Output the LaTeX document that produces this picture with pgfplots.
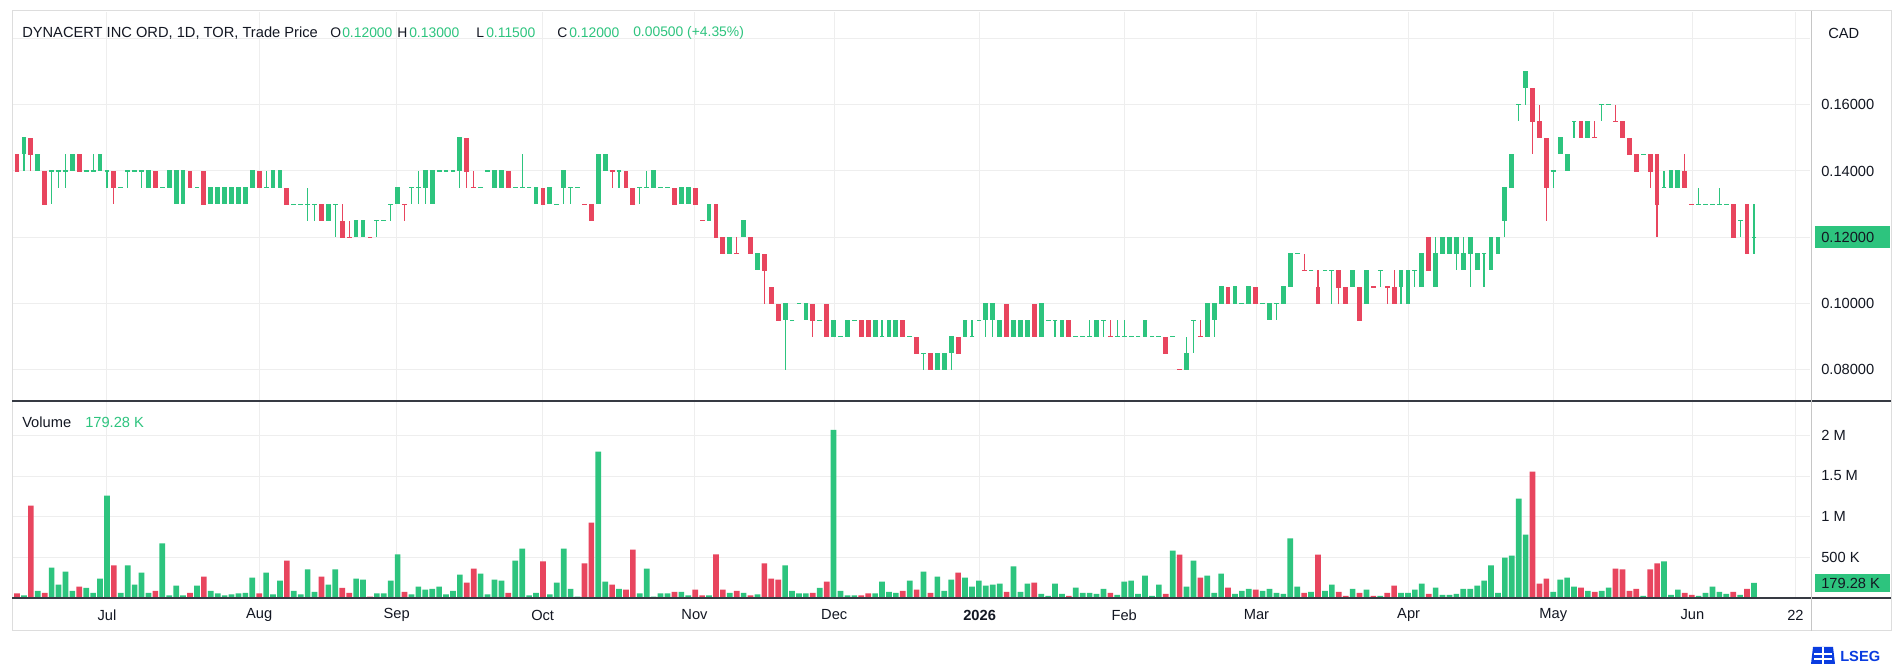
\documentclass[border=0pt]{standalone}
\usepackage{pgfplots}
\pgfplotsset{compat=1.18}
\usepackage{pgfplotstable}
\usepackage{fontspec}
\setmainfont{Liberation Sans}
\definecolor{upc}{HTML}{2DC47E}
\definecolor{dnc}{HTML}{E8455E}
\definecolor{txt}{HTML}{131722}
\definecolor{gridc}{HTML}{EEEEEE}
\definecolor{framec}{HTML}{DDDDDD}
\definecolor{lseg}{HTML}{0A3CE0}
% rising (green) candles: index, open, high, low, close, volume (K)
\pgfplotstableread{
i o h l c v
1 0.145 0.15 0.14 0.15 25
3 0.14 0.145 0.14 0.145 83
5 0.14 0.14 0.13 0.14 370
6 0.14 0.14 0.135 0.14 158
7 0.14 0.145 0.135 0.14 320
8 0.14 0.145 0.14 0.145 83
10 0.14 0.14 0.14 0.14 120
11 0.14 0.145 0.14 0.14 58
12 0.14 0.145 0.14 0.145 233
13 0.14 0.14 0.135 0.14 1258
15 0.135 0.135 0.135 0.135 58
16 0.14 0.14 0.135 0.14 396
17 0.14 0.14 0.14 0.14 158
18 0.14 0.14 0.135 0.14 308
19 0.135 0.14 0.135 0.14 58
21 0.135 0.135 0.135 0.135 667
22 0.135 0.14 0.135 0.14 25
23 0.13 0.14 0.13 0.14 146
24 0.13 0.14 0.13 0.14 25
26 0.135 0.135 0.135 0.135 146
28 0.13 0.135 0.13 0.135 83
29 0.13 0.135 0.13 0.135 50
30 0.13 0.135 0.13 0.135 25
31 0.13 0.135 0.13 0.135 38
32 0.13 0.135 0.13 0.135 50
33 0.13 0.135 0.13 0.135 58
34 0.135 0.14 0.135 0.14 246
36 0.135 0.14 0.135 0.135 308
37 0.135 0.14 0.135 0.14 38
38 0.135 0.14 0.135 0.14 208
40 0.13 0.13 0.13 0.13 83
41 0.13 0.13 0.13 0.13 38
42 0.13 0.135 0.125 0.13 346
43 0.13 0.13 0.125 0.13 71
45 0.125 0.13 0.125 0.13 158
46 0.13 0.13 0.12 0.13 346
49 0.12 0.125 0.12 0.125 233
50 0.12 0.125 0.12 0.125 221
52 0.125 0.125 0.12 0.125 50
53 0.125 0.125 0.125 0.125 50
54 0.13 0.13 0.125 0.13 208
55 0.13 0.135 0.13 0.135 533
57 0.135 0.135 0.13 0.135 38
58 0.135 0.14 0.13 0.135 133
59 0.135 0.14 0.13 0.14 96
60 0.13 0.14 0.13 0.14 108
61 0.14 0.14 0.14 0.14 133
62 0.14 0.14 0.14 0.14 38
63 0.14 0.14 0.14 0.14 83
64 0.14 0.15 0.135 0.15 283
67 0.135 0.135 0.135 0.135 296
68 0.14 0.14 0.14 0.14 38
69 0.135 0.14 0.135 0.14 221
70 0.135 0.14 0.135 0.14 208
72 0.135 0.135 0.135 0.135 454
73 0.135 0.145 0.135 0.135 604
74 0.135 0.135 0.135 0.135 25
75 0.13 0.135 0.13 0.135 58
77 0.13 0.135 0.13 0.135 38
78 0.13 0.13 0.13 0.13 183
79 0.135 0.14 0.13 0.14 604
80 0.135 0.135 0.13 0.135 108
81 0.135 0.135 0.135 0.135 12
84 0.13 0.145 0.13 0.145 1800
85 0.14 0.145 0.14 0.145 196
87 0.14 0.14 0.135 0.14 108
90 0.135 0.135 0.13 0.135 50
91 0.135 0.14 0.135 0.135 358
92 0.135 0.14 0.135 0.14 12
93 0.135 0.135 0.135 0.135 50
94 0.135 0.135 0.135 0.135 50
96 0.13 0.135 0.13 0.135 71
97 0.13 0.135 0.13 0.135 25
100 0.125 0.13 0.125 0.13 25
103 0.115 0.12 0.115 0.12 58
105 0.12 0.125 0.12 0.125 58
107 0.11 0.115 0.11 0.115 38
111 0.095 0.10 0.08 0.10 396
112 0.095 0.095 0.095 0.095 83
113 0.10 0.10 0.10 0.10 50
114 0.095 0.10 0.095 0.10 50
116 0.095 0.095 0.095 0.095 120
118 0.09 0.095 0.09 0.095 2070
119 0.09 0.09 0.09 0.09 83
120 0.09 0.095 0.09 0.095 25
121 0.095 0.095 0.095 0.095 25
124 0.09 0.095 0.09 0.095 50
125 0.09 0.095 0.09 0.09 196
126 0.09 0.095 0.09 0.095 71
127 0.09 0.095 0.09 0.095 58
129 0.09 0.09 0.09 0.09 208
131 0.085 0.085 0.08 0.085 321
133 0.08 0.085 0.08 0.085 258
134 0.08 0.085 0.08 0.085 83
135 0.085 0.09 0.08 0.09 221
137 0.09 0.095 0.09 0.095 246
138 0.09 0.095 0.09 0.09 133
139 0.095 0.095 0.095 0.095 208
140 0.095 0.10 0.09 0.10 146
141 0.095 0.10 0.09 0.10 158
142 0.09 0.095 0.09 0.095 171
144 0.09 0.095 0.09 0.095 383
145 0.09 0.095 0.09 0.095 71
146 0.09 0.095 0.09 0.095 171
148 0.09 0.10 0.09 0.10 46
149 0.095 0.095 0.095 0.095 21
150 0.095 0.095 0.09 0.095 171
151 0.09 0.095 0.09 0.095 46
153 0.09 0.09 0.09 0.09 121
154 0.09 0.09 0.09 0.09 58
155 0.09 0.095 0.09 0.09 58
156 0.09 0.095 0.09 0.095 46
157 0.095 0.095 0.09 0.095 108
159 0.09 0.095 0.09 0.09 33
160 0.09 0.095 0.09 0.09 196
161 0.09 0.09 0.09 0.09 208
162 0.09 0.09 0.09 0.09 46
163 0.09 0.095 0.09 0.095 271
164 0.09 0.09 0.09 0.09 21
165 0.09 0.09 0.09 0.09 158
167 0.09 0.09 0.09 0.09 579
169 0.08 0.09 0.08 0.085 133
170 0.095 0.095 0.085 0.095 454
172 0.09 0.10 0.09 0.10 271
173 0.095 0.10 0.09 0.10 58
174 0.10 0.105 0.10 0.105 296
176 0.10 0.105 0.10 0.105 46
177 0.10 0.10 0.10 0.10 83
178 0.10 0.105 0.10 0.105 108
180 0.10 0.10 0.10 0.10 83
181 0.095 0.10 0.095 0.10 108
182 0.10 0.10 0.095 0.10 58
183 0.10 0.105 0.10 0.105 46
184 0.105 0.115 0.105 0.115 729
185 0.115 0.115 0.115 0.115 133
187 0.11 0.11 0.11 0.11 71
189 0.11 0.11 0.11 0.11 83
190 0.11 0.11 0.10 0.11 158
193 0.105 0.11 0.105 0.11 108
195 0.10 0.11 0.10 0.11 96
197 0.11 0.11 0.105 0.11 21
200 0.105 0.11 0.10 0.11 58
201 0.10 0.11 0.10 0.11 58
202 0.11 0.11 0.105 0.11 96
203 0.105 0.115 0.105 0.115 171
205 0.105 0.12 0.105 0.115 121
206 0.115 0.12 0.115 0.12 33
207 0.115 0.12 0.115 0.12 33
208 0.115 0.12 0.11 0.12 46
209 0.11 0.12 0.11 0.115 108
210 0.115 0.12 0.105 0.12 108
211 0.11 0.115 0.11 0.115 146
212 0.115 0.115 0.105 0.115 208
213 0.11 0.12 0.11 0.12 396
214 0.115 0.12 0.115 0.12 58
215 0.125 0.135 0.12 0.135 492
216 0.135 0.145 0.135 0.145 517
217 0.16 0.16 0.155 0.16 1221
218 0.165 0.17 0.16 0.17 775
222 0.14 0.14 0.135 0.14 71
223 0.145 0.15 0.145 0.15 221
224 0.14 0.145 0.14 0.145 246
225 0.155 0.155 0.15 0.155 133
227 0.15 0.155 0.15 0.155 83
229 0.16 0.16 0.155 0.16 83
230 0.16 0.16 0.16 0.16 121
235 0.145 0.145 0.145 0.145 21
238 0.135 0.14 0.135 0.135 446
239 0.135 0.14 0.135 0.14 33
240 0.135 0.14 0.135 0.14 96
243 0.13 0.135 0.13 0.13 21
244 0.13 0.13 0.13 0.13 58
245 0.13 0.13 0.13 0.13 133
246 0.13 0.135 0.13 0.13 71
247 0.13 0.13 0.13 0.13 46
249 0.125 0.125 0.12 0.125 33
251 0.12 0.13 0.115 0.12 179.28
}\up
% falling (red) candles
\pgfplotstableread{
i o h l c v
0 0.145 0.145 0.14 0.14 50
2 0.15 0.15 0.14 0.145 1133
4 0.14 0.14 0.13 0.13 58
9 0.145 0.145 0.14 0.14 133
14 0.14 0.14 0.13 0.135 396
20 0.14 0.14 0.135 0.135 83
25 0.14 0.14 0.135 0.135 58
27 0.14 0.14 0.13 0.13 258
35 0.14 0.14 0.135 0.135 50
39 0.135 0.135 0.13 0.13 454
44 0.13 0.13 0.125 0.125 258
47 0.125 0.13 0.12 0.12 120
48 0.12 0.125 0.12 0.12 58
51 0.12 0.12 0.12 0.12 12
56 0.13 0.13 0.125 0.13 71
65 0.15 0.15 0.135 0.14 183
66 0.135 0.14 0.135 0.135 358
71 0.14 0.14 0.135 0.135 58
76 0.135 0.135 0.13 0.13 446
82 0.13 0.13 0.13 0.13 421
83 0.13 0.13 0.125 0.125 925
86 0.14 0.14 0.135 0.14 158
88 0.14 0.14 0.135 0.135 96
89 0.135 0.135 0.13 0.13 592
95 0.135 0.135 0.13 0.13 71
98 0.135 0.135 0.13 0.13 96
99 0.125 0.125 0.125 0.125 25
101 0.13 0.13 0.12 0.12 533
102 0.12 0.12 0.115 0.115 96
104 0.115 0.12 0.115 0.115 83
106 0.12 0.12 0.115 0.115 25
108 0.115 0.115 0.10 0.11 421
109 0.105 0.105 0.10 0.10 233
110 0.10 0.10 0.095 0.095 221
115 0.10 0.10 0.09 0.095 58
117 0.10 0.10 0.09 0.09 196
122 0.095 0.095 0.09 0.09 25
123 0.095 0.095 0.09 0.09 50
128 0.095 0.095 0.09 0.09 83
130 0.09 0.09 0.085 0.085 96
132 0.085 0.085 0.08 0.08 58
136 0.09 0.09 0.085 0.085 308
143 0.10 0.10 0.09 0.09 71
147 0.10 0.10 0.09 0.09 183
152 0.095 0.095 0.09 0.09 21
158 0.09 0.095 0.09 0.09 58
166 0.09 0.09 0.085 0.085 46
168 0.08 0.08 0.08 0.08 529
171 0.09 0.095 0.09 0.09 246
175 0.105 0.105 0.10 0.10 121
179 0.105 0.105 0.10 0.10 96
186 0.11 0.115 0.11 0.11 58
188 0.105 0.11 0.10 0.10 529
191 0.11 0.11 0.10 0.105 71
192 0.105 0.105 0.10 0.10 21
194 0.105 0.105 0.095 0.095 58
196 0.105 0.105 0.105 0.105 21
198 0.105 0.105 0.10 0.105 58
199 0.105 0.11 0.10 0.10 146
204 0.12 0.12 0.11 0.11 46
219 0.165 0.165 0.145 0.155 1554
220 0.155 0.16 0.15 0.15 171
221 0.15 0.15 0.125 0.135 233
226 0.155 0.155 0.15 0.15 121
228 0.15 0.155 0.15 0.15 71
231 0.155 0.16 0.155 0.155 358
232 0.155 0.155 0.15 0.15 346
233 0.15 0.15 0.145 0.145 83
234 0.145 0.145 0.14 0.14 108
236 0.145 0.145 0.135 0.14 346
237 0.145 0.145 0.12 0.13 421
241 0.14 0.145 0.135 0.135 58
242 0.13 0.13 0.13 0.13 33
248 0.13 0.13 0.12 0.12 71
250 0.13 0.13 0.115 0.115 108
}\dn
\newcommand{\candles}[2]{%
  \addplot[only marks, mark=*, mark size=0pt, forget plot,
    error bars/.cd, y dir=both, y explicit, error mark=none,
    error bar style={draw=#2, solid, line width=0.9pt}]
    table[x=i, y=c, y error plus expr={\thisrow{h}-\thisrow{c}},
          y error minus expr={\thisrow{c}-\thisrow{l}}] {#1};
  \addplot[only marks, mark=-, mark size=1.8pt,
    mark options={draw=#2, solid, line width=0.9pt}, forget plot,
    error bars/.cd, y dir=both, y explicit, error mark=none,
    error bar style={draw=#2, solid, line width=3.6pt}]
    table[x=i, y=c, y error plus expr={max(\thisrow{o},\thisrow{c})-\thisrow{c}},
          y error minus expr={\thisrow{c}-min(\thisrow{o},\thisrow{c})}] {#1};
}
\begin{document}
\begin{tikzpicture}[x=0.75pt, y=0.75pt, font=\fontsize{11}{13.2}\selectfont]
\path[use as bounding box, fill=white] (0,0) rectangle (1903,671);
\pgfplotsset{
  panel/.style={
    scale only axis, width=1348.5pt, anchor=south west,
    xmin=-0.722, xmax=259.1,
    axis line style={draw=none}, tick style={draw=none}, major tick length=0pt,
    xmajorgrids, ymajorgrids, grid style={gridc, line width=0.75pt},
    xtick={13,35,54.86,75.96,97.9,118.1,139.1,160,179.1,201.1,222,242.1,257},
    yticklabel pos=right,
    ticklabel style={font=\fontsize{11}{13.2}\selectfont, text=txt},
    yticklabel style={anchor=west, inner sep=0pt, xshift=8.25pt},
  }
}
% price panel
\begin{axis}[panel, at={(9pt,202.5pt)}, height=291.75pt,
  ymin=0.07062, ymax=0.18796,
  ytick={0.08,0.10,0.12,0.14,0.16,0.18},
  yticklabels={0.08000,0.10000,0.12000,0.14000,0.16000,{}},
  xticklabels={}]
\candles{\up}{upc}
\candles{\dn}{dnc}
\end{axis}
% volume panel
\begin{axis}[panel, at={(9pt,54.75pt)}, height=147.75pt,
  ymin=-6, ymax=2426, ybar,
  ytick={500,1000,1500,2000},
  yticklabels={500 K,1 M,1.5 M,2 M},
  xticklabels={Jul,Aug,Sep,Oct,Nov,Dec,\textbf{2026},Feb,Mar,Apr,May,Jun,22},
  xticklabel style={anchor=center, inner sep=0pt, yshift=-12.75pt}]
\addplot[fill=upc, draw=none, bar width=0.82, bar shift=0pt] table[x=i, y=v] {\up};
\addplot[fill=dnc, draw=none, bar width=0.82, bar shift=0pt] table[x=i, y=v] {\dn};
\end{axis}
% frame and separators
\draw[framec, line width=0.75pt] (12,660) rectangle (1891,40);
\draw[txt!85, line width=1.1pt] (12,270) -- (1891,270);
\draw[txt!85, line width=1.1pt] (12,73) -- (1891,73);
\draw[gray!45, line width=0.75pt] (1811,660) -- (1811,40);
% header
\begin{scope}[every node/.style={inner sep=0pt, anchor=west, text=txt}]
\node at (22,638) {DYNACERT INC ORD, 1D, TOR, Trade Price};
\begin{scope}[every node/.append style={font=\fontsize{10.4}{12.5}\selectfont}]
\node at (330,638) {O};
\node[text=upc] at (342,638) {0.12000};
\node at (397,638) {H};
\node[text=upc] at (409,638) {0.13000};
\node at (476,638) {L};
\node[text=upc] at (486,638) {0.11500};
\node at (557,638) {C};
\node[text=upc] at (569,638) {0.12000};
\node[text=upc] at (633,638) {0.00500 (+4.35\%)};
\end{scope}
\node at (1828,638) {CAD};
\node at (22,249) {Volume};
\node[text=upc] at (85,249) {179.28 K};
\end{scope}
% last value labels
\fill[upc] (1815,445) rectangle (1890,423);
\node[inner sep=0pt, anchor=west, text=txt] at (1821,434) {0.12000};
\fill[upc] (1815,97) rectangle (1890,79);
\node[inner sep=0pt, anchor=west, text=txt] at (1821,88) {179.28 K};
% logo
\fill[lseg] (1811,7) -- (1835,7) -- (1833,24) -- (1813,24) -- cycle;
\draw[white, line width=0.8pt] (1814,12) -- (1832,12) (1814,17) -- (1832,17) (1823,7) -- (1823,24);
\node[inner sep=0pt, anchor=west, text=lseg, font=\fontsize{11}{13}\selectfont\bfseries] at (1840,15) {LSEG};
\end{tikzpicture}
\end{document}
